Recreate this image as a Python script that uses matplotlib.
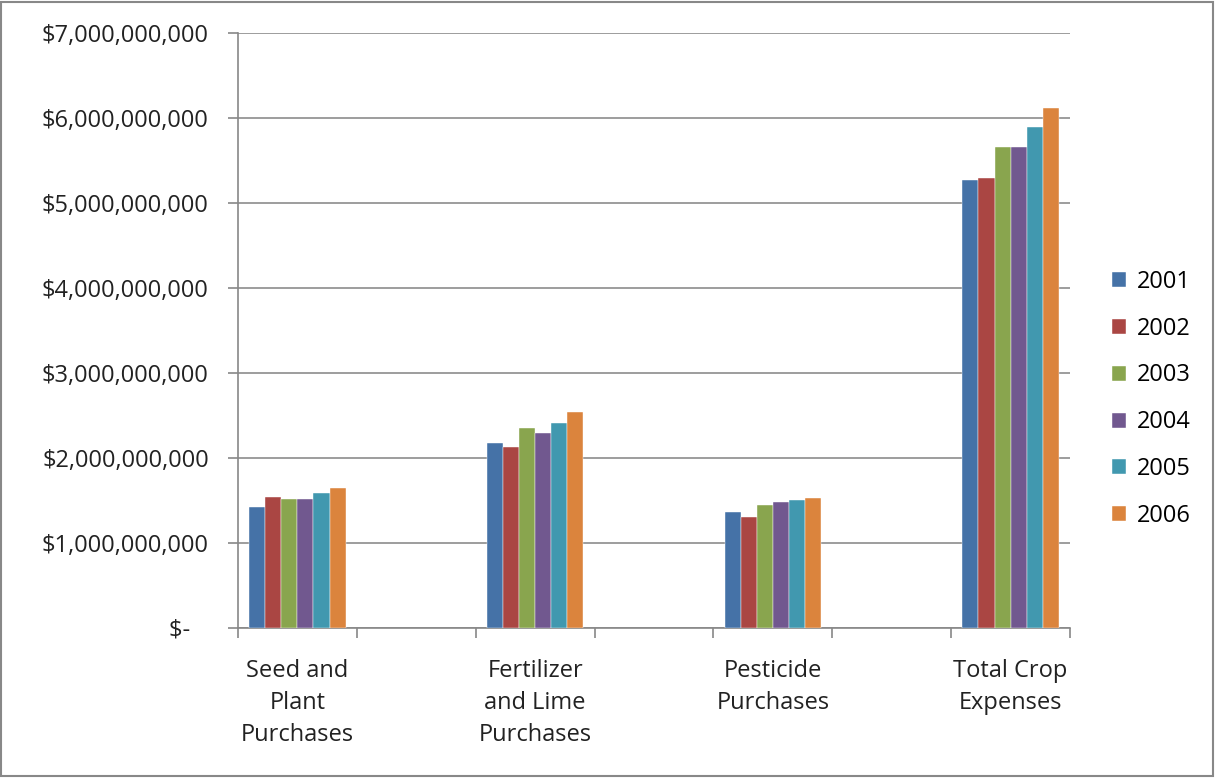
import matplotlib
matplotlib.use("Agg")
import matplotlib.pyplot as plt
import matplotlib.ticker as mticker
from matplotlib.patches import Rectangle
import numpy as np

# Data (billions of dollars)
categories = ["Seed and\nPlant\nPurchases", "Fertilizer\nand Lime\nPurchases",
              "Pesticide\nPurchases", "Total Crop\nExpenses"]
years = ["2001", "2002", "2003", "2004", "2005", "2006"]
seed = [1.42, 1.54, 1.52, 1.52, 1.59, 1.65]
fertilizer = [2.18, 2.13, 2.35, 2.30, 2.41, 2.54]
pesticide = [1.37, 1.31, 1.45, 1.48, 1.51, 1.53]
total = [5.27, 5.30, 5.66, 5.66, 5.89, 6.12]
colors = ["#4572A7", "#AA4643", "#89A54E", "#71588F", "#4198AF", "#DB843D"]

values = np.array([seed, fertilizer, pesticide, total]) * 1e9

plt.rcParams['font.family'] = ['Open Sans', 'DejaVu Sans']
fs = 17
fig = plt.figure(figsize=(12.15, 7.78), dpi=100)
ax = fig.add_axes([238 / 1215, 1 - 628 / 778, 832 / 1215, 595 / 778])

# categories sit in every other slot (blank slots in between)
slots = np.arange(len(categories)) * 2
bar_w = 0.135
for i, yr in enumerate(years):
    offs = (i - 2.5) * bar_w
    ax.bar(slots + offs, values[:, i], width=bar_w, color=colors[i],
           label=yr, zorder=3, edgecolor="white", linewidth=0.3)

ax.set_xlim(-0.5, 6.5)
ax.set_ylim(0, 7e9)
ax.set_xticks(slots)
ax.set_xticklabels(categories, fontsize=fs, color="#222222", linespacing=1.45)
ax.set_xticks(np.arange(-0.5, 7.0, 1.0), minor=True)
ax.tick_params(axis="x", which="major", length=0, pad=22)
ax.tick_params(axis="x", which="minor", length=7, color="#888888", width=1.2)

def fmt(v, pos):
    if v == 0:
        return "$-   "
    return "${:,.0f}".format(v)

ax.yaxis.set_major_locator(mticker.MultipleLocator(1e9))
ax.yaxis.set_major_formatter(mticker.FuncFormatter(fmt))
ax.tick_params(axis="y", length=7, color="#888888", width=1.2,
               labelsize=fs, labelcolor="#222222", pad=14)
ax.grid(axis="y", color="#8c8c8c", linewidth=1.2, zorder=0)

for s in ["top", "right"]:
    ax.spines[s].set_visible(False)
for s in ["left", "bottom"]:
    ax.spines[s].set_color("#888888")
    ax.spines[s].set_linewidth(1.2)

ax.legend(loc="center left", bbox_to_anchor=(1.025, 0.385), frameon=False,
          fontsize=fs, handlelength=0.6, handleheight=0.6, labelspacing=0.97,
          handletextpad=0.45)

# border around the whole chart
fig.patches.append(Rectangle((0.001, 0.003), 0.997, 0.995, transform=fig.transFigure,
                             fill=False, edgecolor="#888888", linewidth=1.5))

fig.savefig("out.png", dpi=100)
